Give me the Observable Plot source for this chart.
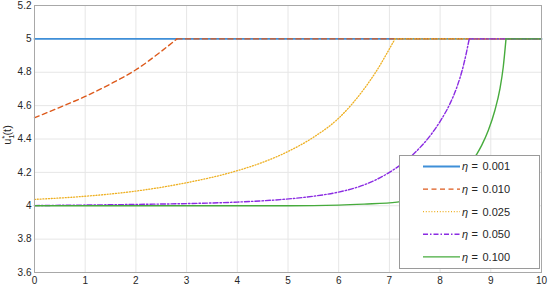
<!DOCTYPE html>
<html><head><meta charset="utf-8">
<script src="https://cdn.jsdelivr.net/npm/d3@7"></script>
<script src="https://cdn.jsdelivr.net/npm/@observablehq/plot@0.6"></script>
<style>
body{margin:0;background:#fff;}
#chart{position:relative;width:550px;height:288px;font-family:"Liberation Sans",Arial,Helvetica,sans-serif;}
</style>
</head><body><div id="chart"></div>
<script>
// ---- data ----
const etaLabels = ["0.001", "0.010", "0.025", "0.050", "0.100"];
const seriesColors = ["#3f8fd8", "#dd5a1c", "#eeb022", "#8a2be2", "#46ab3c"];
const seriesDash = [null, "5,3.5", "1,1.8", "5,2,1.5,2", null];

const t001 = [0, 10];
const u001 = [5, 5];

const t010 = [0, 0.5, 1.0, 1.5, 2.0, 2.5, 2.81, 10];
const u010 = [4.527, 4.59, 4.655, 4.73, 4.815, 4.925, 5, 5];

const t025 = [0, 1, 2, 3, 4, 4.5, 5, 5.5, 6, 6.5, 6.75, 7, 7.11, 10];
const u025 = [4.038, 4.057, 4.088, 4.138, 4.21, 4.26, 4.325, 4.41, 4.525, 4.70, 4.81, 4.94, 5, 5];

const t050 = [0, 2, 3, 4, 4.85, 5.5, 6, 6.5, 7, 7.44, 7.83, 8.03, 8.2, 8.33, 8.46, 8.575, 10];
const u050 = [4.001, 4.008, 4.013, 4.022, 4.037, 4.057, 4.082, 4.125, 4.2, 4.3, 4.43, 4.52, 4.615, 4.71, 4.84, 5, 5];

const t100 = [0, 5, 6, 6.5, 7.15, 7.5, 7.9, 8.2, 8.5, 8.72, 8.82, 8.95, 9.08, 9.18, 9.245, 9.3, 10];
const u100 = [4.0, 4.0, 4.004, 4.01, 4.022, 4.038, 4.07, 4.12, 4.21, 4.308, 4.362, 4.451, 4.571, 4.70, 4.83, 5, 5];

const xTicks = [0, 1, 2, 3, 4, 5, 6, 7, 8, 9, 10];
const yTicks = [3.6, 3.8, 4, 4.2, 4.4, 4.6, 4.8, 5, 5.2];
const xDomain = [0, 10];
const yDomain = [3.6, 5.2];

const allT = [t001, t010, t025, t050, t100];
const allU = [u001, u010, u025, u050, u100];

// ---- build marks ----
const marks = [
  Plot.gridX(xTicks, {stroke: "#e6e6e6", strokeOpacity: 1}),
  Plot.gridY(yTicks, {stroke: "#e6e6e6", strokeOpacity: 1}),
];
allT.forEach((ts, i) => {
  const pts = ts.map((t, j) => ({t, u: allU[i][j]}));
  const hit = pts.findIndex(p => p.u >= 5);
  const rise = pts.slice(0, hit + 1);
  const flat = pts.slice(hit);
  const style = {
    x: "t", y: "u", stroke: seriesColors[i],
    strokeWidth: i === 0 ? 1.8 : (i === 2 ? 1.3 : 1.4),
    strokeDasharray: seriesDash[i] || undefined,
  };
  if (rise.length > 1) marks.push(Plot.line(rise, {...style, curve: "monotone-x"}));
  if (flat.length > 1) marks.push(Plot.line(flat, {...style, curve: "linear"}));
});
marks.push(Plot.frame({stroke: "#a8a8a8", strokeWidth: 1}));
marks.push(Plot.axisX(xTicks, {tickSize: 0, tickPadding: 4, fontSize: 10, fill: "#262626", label: null, tickFormat: d => String(d)}));
marks.push(Plot.axisY(yTicks, {tickSize: 0, tickPadding: 3, fontSize: 10, fill: "#262626", label: null, tickFormat: d => String(d)}));

const chart = Plot.plot({
  width: 550, height: 288,
  marginLeft: 34, marginRight: 9, marginTop: 5, marginBottom: 16,
  x: {domain: xDomain},
  y: {domain: yDomain},
  style: {fontFamily: '"Liberation Sans", Arial, Helvetica, sans-serif', background: "#fff"},
  marks
});
document.getElementById("chart").appendChild(chart);

const svg = d3.select(chart);

// y-axis label
const yl = svg.append("text")
  .attr("transform", "translate(11,135) rotate(-90)")
  .attr("text-anchor", "middle")
  .attr("font-size", 11)
  .attr("fill", "#262626");
yl.append("tspan").text("u");
yl.append("tspan").attr("font-size", 8).attr("dy", 3).text("1");
yl.append("tspan").attr("font-size", 8).attr("dx", -4.5).attr("dy", -7).text("*");
yl.append("tspan").attr("dy", 4).text("(t)");

// legend
const lg = svg.append("g").attr("transform", "translate(399.5,155.5)");
lg.append("rect").attr("width", 140).attr("height", 113)
  .attr("fill", "#fff").attr("stroke", "#9a9a9a").attr("stroke-width", 1);
etaLabels.forEach((lab, i) => {
  const y = 11 + i * 22.6;
  lg.append("line").attr("x1", 23.5).attr("x2", 60.5).attr("y1", y).attr("y2", y)
    .attr("stroke", seriesColors[i]).attr("stroke-width", i === 0 ? 1.8 : (i === 2 ? 1.3 : 1.4))
    .attr("stroke-dasharray", seriesDash[i] || null);
  const g = lg.append("g").attr("font-size", 11).attr("fill", "#262626")
    .attr("text-anchor", "start");
  g.append("text").attr("x", 62.5).attr("y", y).attr("dy", "0.35em")
    .attr("font-style", "italic").text("η");
  g.append("text").attr("x", 72).attr("y", y).attr("dy", "0.35em").text("=");
  g.append("text").attr("x", 83).attr("y", y).attr("dy", "0.35em").text(lab);
});
</script>
</body></html>
